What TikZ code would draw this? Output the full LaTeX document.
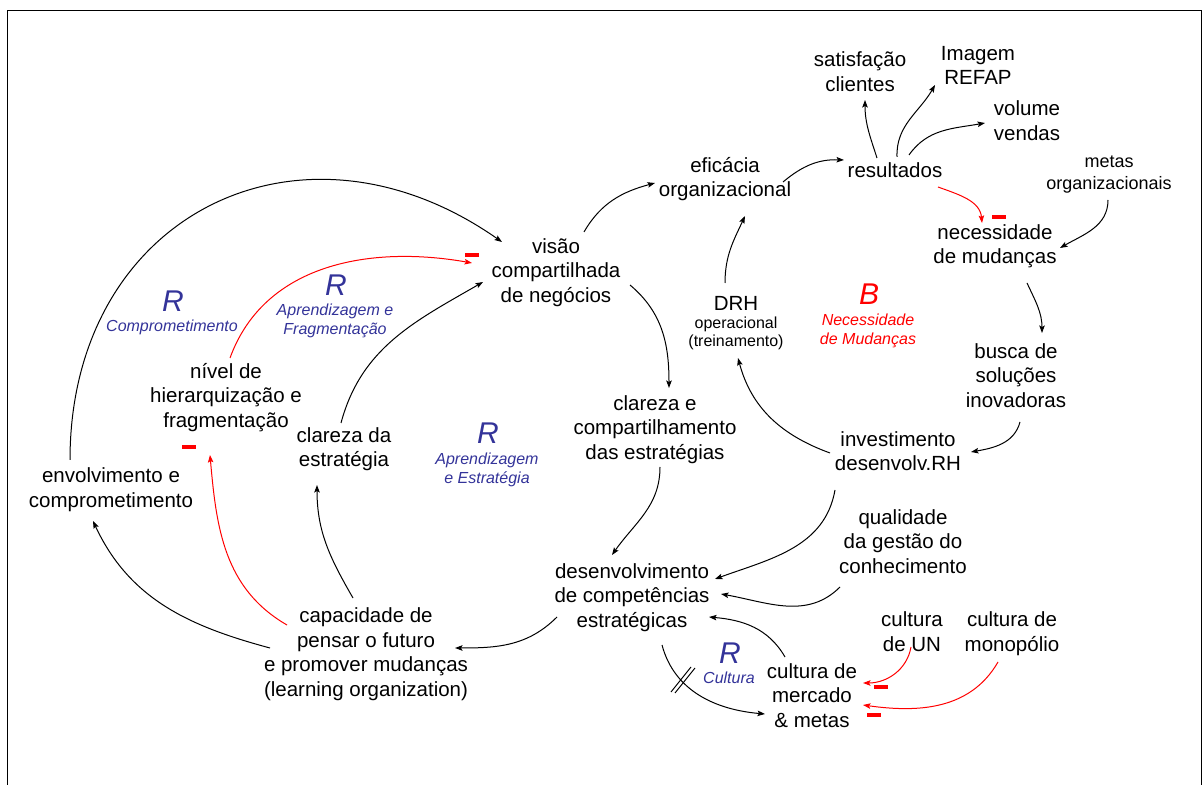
\documentclass[tikz,border=0pt]{standalone}
\usepackage{fontspec}
\setmainfont{Liberation Sans}
\usetikzlibrary{arrows.meta}
\definecolor{loopblue}{RGB}{51,51,153}
\definecolor{negred}{RGB}{255,0,0}
\begin{document}
\begin{tikzpicture}[x=1pt,y=1pt,
  txt/.style={inner sep=0pt, align=center, font=\fontsize{20.5}{24.5}\selectfont,
    execute at begin node=\strut, execute at end node=\strut},
  txtm/.style={txt, font=\fontsize{18}{22}\selectfont},
  txts/.style={txt, font=\fontsize{16}{18}\selectfont},
  loopletter/.style={txt, text=loopblue, font=\fontsize{30}{36}\selectfont\itshape},
  looplabel/.style={txt, text=loopblue, font=\fontsize{16}{19}\selectfont\itshape},
  link/.style={line width=1pt, -{Stealth[length=7.5pt,width=5.5pt,inset=1.5pt]}},
  neglink/.style={link, draw=negred},
  minusbar/.style={fill=negred, inner sep=0pt, minimum width=14pt, minimum height=3.5pt}
]
\useasboundingbox (0,0) rectangle (1204,784);
% outer frame
\draw[line width=1.5pt] (1201.5,-20) -- (1201.5,773.5) -- (7.5,773.5) -- (7.5,-20);

% ---------- variables ----------
\node[txt] (sat) at (860,708.5) {satisfação\\clientes};
\node[txt] (img) at (978,715) {Imagem\\REFAP};
\node[txt] (vol) at (1027,659.5) {volume\\vendas};
\node[txt] (efi) at (725,603.5) {eficácia\\organizacional};
\node[txt] (res) at (895,611) {resultados};
\node[txtm] (metas) at (1109,608) {metas\\organizacionais};
\node[txt] (nec) at (995,536) {necessidade\\de mudanças};
\node[txt] (vis) at (556,510) {visão\\compartilhada\\de negócios};
\node[txt] (drh) at (736,478.6) {DRH};
\node[txts] (drhsub) at (736,450) {operacional\\(treinamento)};
\node[txt] (busca) at (1016,405) {busca de\\soluções\\inovadoras};
\node[txt] (nivel) at (226,385) {nível de\\hierarquização e\\fragmentação};
\node[txt] (clarest) at (344,333) {clareza da\\estratégia};
\node[txt] (clarcomp) at (655,353) {clareza e\\compartilhamento\\das estratégias};
\node[txt] (inv) at (898,329) {investimento\\desenvolv.RH};
\node[txt] (env) at (111,292.5) {envolvimento e\\comprometimento};
\node[txt] (qual) at (903,239) {qualidade\\da gestão do\\conhecimento};
\node[txt] (desenv) at (632,185) {desenvolvimento\\de competências\\estratégicas};
\node[txt] (cap) at (366,128.5) {capacidade de\\pensar o futuro\\e promover mudanças\\(learning organization)};
\node[txt] (cun) at (912,149) {cultura\\de UN};
\node[txt] (cmon) at (1012,149) {cultura de\\monopólio};
\node[txt] (merc) at (812,85) {cultura de\\mercado\\\& metas};

% ---------- loop labels ----------
\node[loopletter] (rcomp) at (173,480) {R};
\node[looplabel] (rcompl) at (172,456) {Comprometimento};
\node[loopletter] (rapf) at (336,495.5) {R};
\node[looplabel] (rapfl) at (335,462) {Aprendizagem e\\Fragmentação};
\node[loopletter] (rape) at (488,347.5) {R};
\node[looplabel] (rapel) at (487,313) {Aprendizagem\\e Estratégia};
\node[loopletter] (rcul) at (730,127.5) {R};
\node[looplabel] (rcull) at (729,104) {Cultura};
\node[loopletter, text=negred] (bal) at (869,486.5) {B};
\node[looplabel, text=negred] (ball) at (868,451.5) {Necessidade\\de Mudanças};

% ---------- polarity marks ----------
\node[minusbar] (m1) at (999,567) {};
\node[minusbar] (m2) at (472,529) {};
\node[minusbar] (m3) at (189,337) {};
\node[minusbar] (m4) at (881,97) {};
\node[minusbar] (m5) at (874,69) {};

% ---------- links ----------
\draw[link] ([shift={(-18,15)}]res.center) to[out=108,in=-90] ([shift={(5,-24.5)}]sat.center);
\draw[link] ([shift={(2,16)}]res.center) to[out=92,in=-120] ([shift={(-43,-16)}]img.center);
\draw[link] ([shift={(14,18)}]res.center) to[out=55,in=190] ([shift={(-42,1.5)}]vol.center);
\draw[link] ([shift={(58,-1.5)}]efi.center) to[out=40,in=178] ([shift={(-51,13)}]res.center);
\draw[link] ([shift={(28,42)}]vis.center) to[out=60,in=195] ([shift={(-70,-2.5)}]efi.center);
\draw[link] ([shift={(74,-11)}]vis.center) to[out=-40,in=90] ([shift={(14,43)}]clarcomp.center);
\draw[link] ([shift={(-11,22.4)}]drh.center) to[out=90,in=-115] ([shift={(20,-35.5)}]efi.center);
\draw[neglink] ([shift={(43,-14)}]res.center) to[out=-20,in=95] ([shift={(-13,25)}]nec.center);
\draw[link] ([shift={(-1,-24)}]metas.center) to[out=-90,in=30] ([shift={(65,0)}]nec.center);
\draw[link] ([shift={(32,-35)}]nec.center) to[out=-65,in=90] ([shift={(26,46)}]busca.center);
\draw[link] ([shift={(4,-43)}]busca.center) to[out=-105,in=10] ([shift={(73,3)}]inv.center);
\draw[link] ([shift={(-68,2)}]inv.center) to[out=160,in=-75] ([shift={(2,-24)}]drhsub.center);
\draw[link] ([shift={(-63,-35)}]inv.center) to[out=-100,in=20] ([shift={(83,20)}]desenv.center);
\draw[link] ([shift={(5,-36)}]clarcomp.center) to[out=-90,in=55] ([shift={(-20,44)}]desenv.center);
\draw[link] ([shift={(-63,-42)}]qual.center) to[out=-135,in=-10] ([shift={(89,5)}]desenv.center);
\draw[link] ([shift={(-27,42)}]merc.center) to[out=120,in=-5] ([shift={(77,-18)}]desenv.center);
\draw[link] ([shift={(30,-46)}]desenv.center) to[out=-75,in=175] ([shift={(-47,-15)}]merc.center);
\draw[neglink] ([shift={(-1,-12)}]cun.center) to[out=-100,in=0] ([shift={(51,16)}]merc.center);
\draw[neglink] ([shift={(-14,-27)}]cmon.center) to[out=-120,in=-8] ([shift={(51,-6)}]merc.center);
\draw[link] ([shift={(-75,-18)}]desenv.center) to[out=-135,in=0] ([shift={(89,7.5)}]cap.center);
\draw[link] ([shift={(-96,7.5)}]cap.center) to[out=165,in=-65] ([shift={(-18,-29.5)}]env.center);
\draw[neglink] ([shift={(-79,30.5)}]cap.center) to[out=150,in=-85] ([shift={(-16,-56)}]nivel.center);
\draw[link] ([shift={(-13,57.5)}]cap.center) to[out=120,in=-90] ([shift={(-27,-34)}]clarest.center);
\draw[neglink] ([shift={(4,41)}]nivel.center) to[out=70,in=170] ([shift={(-84,11)}]vis.center);
\draw[link] ([shift={(-3,28)}]clarest.center) to[out=75,in=-150] ([shift={(-73,-8)}]vis.center);
\draw[link] ([shift={(-41,31.5)}]env.center) to[out=90,in=145,looseness=1.3] ([shift={(-54,32)}]vis.center);

% delay mark on the link from competencies to market culture
\coordinate (delay) at (683,104);
\draw[line width=1pt] ([shift={(-12,-12)}]delay) -- ([shift={(8,13)}]delay);
\draw[line width=1pt] ([shift={(-8,-13)}]delay) -- ([shift={(12,12)}]delay);
\end{tikzpicture}
\end{document}
